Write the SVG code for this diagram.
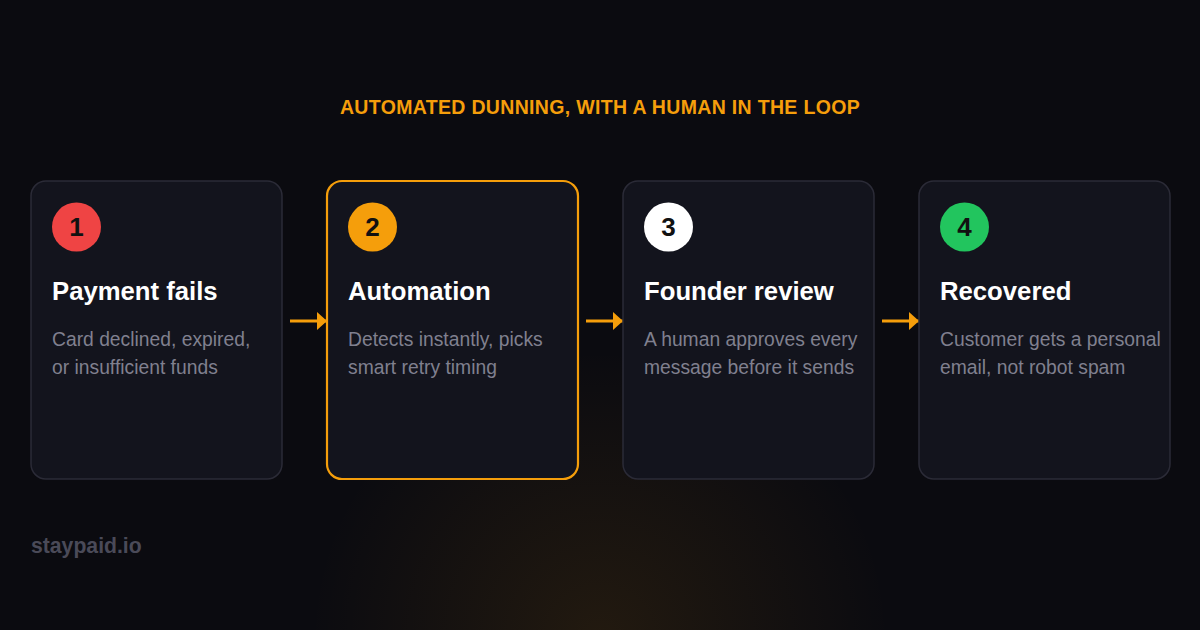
<svg xmlns="http://www.w3.org/2000/svg" width="1200" height="630" viewBox="0 0 1200 630">
<defs>
<radialGradient id="glow" cx="600" cy="640" r="290" gradientUnits="userSpaceOnUse">
<stop offset="0" stop-color="#f59e0b" stop-opacity="0.1"/>
<stop offset="0.5" stop-color="#f59e0b" stop-opacity="0.05"/>
<stop offset="1" stop-color="#f59e0b" stop-opacity="0"/>
</radialGradient>
<marker id="ah" markerWidth="10" markerHeight="18" refX="10" refY="9" orient="auto" markerUnits="userSpaceOnUse">
<path d="M0,0 L10,9 L0,18 Z" fill="#f59e0b"/>
</marker>
<style>
.card{fill:#13141d;stroke:#2b2b37;stroke-width:1.5}
.hl{stroke:#f59e0b;stroke-width:2.2}
.num{font-family:"Liberation Sans",Arial,sans-serif;font-weight:bold;font-size:26px;fill:#111111;text-anchor:middle}
.ttl{font-family:"Liberation Sans",Arial,sans-serif;font-weight:bold;font-size:25.7px;fill:#ffffff}
.dsc{font-family:"Liberation Sans",Arial,sans-serif;font-size:19.3px;fill:#80808f}
.conn{stroke:#f59e0b;stroke-width:3;fill:none}
</style>
</defs>
<rect width="1200" height="630" fill="#0b0b10"/>
<circle cx="600" cy="640" r="290" fill="url(#glow)"/>
<text x="600" y="114" text-anchor="middle" font-family="'Liberation Sans',Arial,sans-serif" font-weight="bold" font-size="19.5" fill="#f59e0b" letter-spacing="0.33">AUTOMATED DUNNING, WITH A HUMAN IN THE LOOP</text>
<g id="connectors">
<line class="conn" x1="290" y1="321" x2="327" y2="321" marker-end="url(#ah)"/>
<line class="conn" x1="586" y1="321" x2="623" y2="321" marker-end="url(#ah)"/>
<line class="conn" x1="882" y1="321" x2="919" y2="321" marker-end="url(#ah)"/>
</g>
<g id="node1">
<rect class="card" x="31" y="181" width="251" height="298" rx="15"/>
<circle cx="76.5" cy="227" r="24.5" fill="#ef4444"/>
<text class="num" x="76.5" y="236">1</text>
<text class="ttl" x="52" y="300">Payment fails</text>
<text class="dsc" x="52" y="346">Card declined, expired,</text>
<text class="dsc" x="52" y="374">or insufficient funds</text>
</g>
<g id="node2">
<rect class="card hl" x="327" y="181" width="251" height="298" rx="15"/>
<circle cx="372.5" cy="227" r="24.5" fill="#f59e0b"/>
<text class="num" x="372.5" y="236">2</text>
<text class="ttl" x="348" y="300">Automation</text>
<text class="dsc" x="348" y="346">Detects instantly, picks</text>
<text class="dsc" x="348" y="374">smart retry timing</text>
</g>
<g id="node3">
<rect class="card" x="623" y="181" width="251" height="298" rx="15"/>
<circle cx="668.5" cy="227" r="24.5" fill="#ffffff"/>
<text class="num" x="668.5" y="236">3</text>
<text class="ttl" x="644" y="300">Founder review</text>
<text class="dsc" x="644" y="346">A human approves every</text>
<text class="dsc" x="644" y="374">message before it sends</text>
</g>
<g id="node4">
<rect class="card" x="919" y="181" width="251" height="298" rx="15"/>
<circle cx="964.5" cy="227" r="24.5" fill="#22c55e"/>
<text class="num" x="964.5" y="236">4</text>
<text class="ttl" x="940" y="300">Recovered</text>
<text class="dsc" x="940" y="346">Customer gets a personal</text>
<text class="dsc" x="940" y="374">email, not robot spam</text>
</g>
<text x="31" y="553" font-family="'Liberation Sans',Arial,sans-serif" font-weight="bold" font-size="21.2" fill="#4a4a58">staypaid.io</text>
</svg>
